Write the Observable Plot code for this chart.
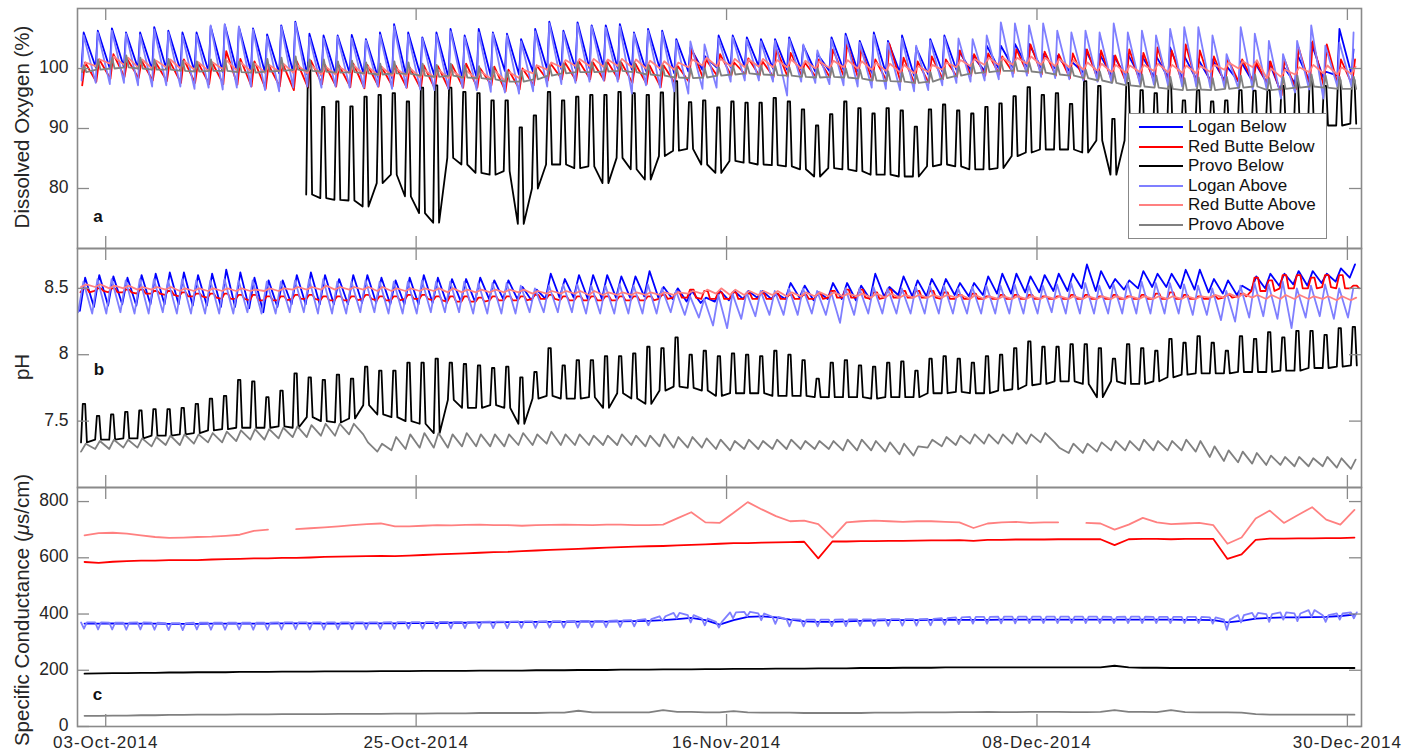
<!DOCTYPE html>
<html><head><meta charset="utf-8">
<script src="https://cdn.jsdelivr.net/npm/d3@7"></script>
<script src="https://cdn.jsdelivr.net/npm/@observablehq/plot@0.6"></script>
<style>
body{margin:0;background:#fff;font-family:"Liberation Sans",Arial,sans-serif;}
#wrap{position:relative;width:1417px;height:752px;overflow:hidden;background:#fff;}
.panel{position:absolute;left:0;}
.ytitle{position:absolute;white-space:nowrap;font-size:20.5px;line-height:1;color:#262626;transform:translate(-50%,-50%) rotate(-90deg);}
.letter{position:absolute;font-weight:bold;font-size:17px;line-height:1;color:#111;transform:translate(-50%,-50%);}
#legend{position:absolute;left:1128px;top:113px;width:197px;height:124px;border:1.5px solid #888;background:#fff;}
.lrow{position:absolute;left:0;height:20px;width:197px;}
.lline{position:absolute;left:10px;top:9px;width:44px;height:2px;}
.ltext{position:absolute;left:59px;top:0;font-size:17px;line-height:20px;color:#111;white-space:nowrap;}
</style></head>
<body><div id="wrap"></div>
<script>
// ---------- axis / legend text ----------
const seriesNames = ["Logan Below","Red Butte Below","Provo Below","Logan Above","Red Butte Above","Provo Above"];
const seriesColors = ["#0000ff","#ff0000","#000000","#7f7fff","#ff8080","#808080"];
const tickDateStrings = ["2014-10-03","2014-10-25","2014-11-16","2014-12-08","2014-12-30"];
const tickLabels = ["03-Oct-2014","25-Oct-2014","16-Nov-2014","08-Dec-2014","30-Dec-2014"];
const doTicks = [80, 90, 100];
const phTicks = [7.5, 8, 8.5];
const scTicks = [0, 200, 400, 600, 800];

// ---------- (a) Dissolved oxygen, daily high / low, day 0 = 01-Oct-2014 ----------
const doLoganBelowHi = [
106.0,106.3,106.7,106.0,106.0,106.9,106.3,106.0,106.0,107.0,
107.3,106.9,106.7,105.7,107.2,107.8,105.8,105.5,105.5,105.6,
104.9,106.0,107.4,106.0,105.2,106.0,106.6,105.5,106.6,106.0,
105.8,104.9,106.6,107.8,106.3,107.7,107.2,107.2,107.4,106.0,
106.6,106.3,104.9,103.5,102.1,105.5,105.5,105.2,104.9,104.9,
105.2,103.8,102.4,105.2,105.8,104.6,106.0,104.6,105.5,103.5,
104.9,105.5,103.0,102.1,103.8,103.8,104.1,104.1,102.4,102.1,
101.2,103.2,102.4,102.1,102.4,102.1,102.1,103.5,102.1,101.5,
101.5,100.4,101.2,101.0,101.2,100.4,102.4,104.3,99.5,106.6,103.2];
const doLoganBelowLo = [
100.3,100.2,100.0,100.2,100.0,99.8,99.9,99.7,99.6,99.5,
99.4,99.6,99.5,99.3,99.2,99.3,99.0,98.8,99.0,99.2,
99.0,98.6,98.4,98.8,99.0,98.8,98.5,98.2,98.5,98.7,
99.6,99.0,99.4,99.8,99.9,100.0,100.0,100.2,100.0,99.8,
99.6,99.8,99.2,99.5,99.8,100.2,100.2,100.3,100.3,100.0,
99.8,99.8,99.5,99.6,99.8,99.6,99.3,99.2,99.3,98.8,
99.0,99.5,99.8,99.8,99.6,100.0,100.2,100.3,100.2,100.0,
99.6,99.3,99.0,98.8,98.7,98.6,98.6,98.5,98.3,98.2,
98.0,98.0,97.8,97.8,97.6,96.0,97.5,98.0,98.5,98.8,99.0];
const doRedBelowHi = [
101.0,101.5,102.4,101.5,101.3,101.0,101.2,101.5,101.0,101.0,
102.9,101.6,101.2,100.6,100.8,101.2,101.3,100.6,100.5,100.8,
100.6,100.3,100.5,100.2,100.5,100.4,100.6,100.8,100.0,100.3,
99.8,100.0,100.5,100.8,101.0,101.2,101.0,101.2,101.0,100.8,
100.5,100.5,100.4,103.2,101.5,102.4,101.0,101.7,101.2,103.2,
102.6,101.0,101.5,103.2,104.1,103.2,101.5,104.1,101.8,101.2,
102.0,101.5,103.0,102.4,102.5,102.0,103.2,104.0,102.8,102.4,
102.5,103.2,103.0,102.2,103.2,102.6,103.5,103.0,104.0,103.0,
102.0,101.5,101.5,101.0,101.2,101.5,103.5,104.5,104.0,101.5,101.5];
const doRedBelowLo = [
97.2,97.8,98.3,98.6,98.4,98.0,97.9,97.6,97.6,97.4,
97.4,97.3,97.0,96.6,97.0,96.4,96.8,97.4,97.0,96.9,
96.7,97.0,97.0,96.8,96.6,96.6,96.5,96.8,96.8,97.2,
96.2,96.5,97.2,98.0,98.2,98.0,98.2,98.0,98.2,97.6,
97.4,96.9,97.6,97.8,98.4,98.8,98.8,99.0,98.8,98.6,
98.6,98.8,98.6,98.5,98.6,98.4,98.0,98.0,97.8,97.5,
97.6,98.2,98.6,98.8,98.8,99.0,99.2,99.2,99.0,98.8,
98.4,98.0,98.0,97.8,97.6,97.5,97.6,97.5,97.4,97.3,
97.2,97.4,97.6,97.8,97.4,95.5,96.5,97.2,97.0,97.2,97.3];
const doProvoBelowHi = [
null,null,null,null,null,null,null,null,null,null,
null,null,null,null,null,null,101.0,93.6,94.5,93.7,
95.3,95.6,95.9,94.5,96.8,97.2,96.8,96.1,95.9,94.7,
94.7,90.2,92.2,96.1,94.7,95.3,95.6,95.6,96.1,95.9,
95.6,96.0,97.9,94.4,94.7,93.5,94.5,94.3,94.3,95.1,
94.5,93.2,90.5,92.4,94.5,93.4,92.5,93.4,93.0,90.3,
93.2,94.0,93.0,92.5,93.6,94.2,95.4,96.9,95.6,95.9,
94.1,97.9,97.1,91.6,97.6,96.4,95.9,97.9,94.7,96.4,
94.5,94.7,96.4,96.3,96.4,97.1,98.1,98.4,97.1,98.1,98.1];
const doProvoBelowLo = [
null,null,null,null,null,null,null,null,null,null,
null,null,null,null,null,null,79.0,78.4,78.1,78.0,
77.0,80.9,82.3,78.7,75.9,74.3,85.1,84.0,82.6,82.3,
82.9,74.1,80.0,84.0,84.0,83.4,83.7,80.9,85.1,83.2,
81.5,85.4,86.3,86.6,84.0,82.6,84.6,84.3,84.0,83.9,
83.7,83.2,82.0,83.4,83.2,82.9,82.3,82.3,82.0,82.0,
83.7,84.0,83.7,83.2,83.2,83.4,85.4,86.0,86.5,86.5,
86.5,86.0,88.0,82.3,88.0,88.0,88.3,88.5,88.8,89.1,
89.1,89.1,89.4,90.0,90.0,90.5,90.2,90.5,90.5,90.5,90.8];
const doLoganAboveHi = [
105.5,106.0,106.3,105.8,105.6,106.5,106.0,105.5,105.6,107.2,
107.4,107.0,106.5,105.3,107.0,107.6,105.2,105.0,105.3,105.0,
104.7,105.6,107.0,105.6,105.0,105.6,106.2,105.2,106.0,105.8,
105.5,104.5,106.2,107.5,106.0,107.4,107.0,106.8,107.0,105.8,
106.3,106.0,104.6,104.5,104.0,105.0,105.2,104.8,104.5,104.6,
104.9,104.0,103.0,104.8,105.4,104.3,105.6,104.3,105.0,103.8,
104.6,105.2,105.0,104.9,105.5,107.7,107.5,107.2,107.5,106.3,
106.0,106.3,106.0,107.5,106.0,106.3,105.5,106.6,106.9,106.9,
105.5,102.4,106.9,105.8,104.6,102.4,104.6,107.2,103.8,104.3,106.0];
const doLoganAboveLo = [
98.0,97.6,97.4,97.6,97.2,97.0,97.2,97.0,96.6,96.8,
96.5,96.8,97.0,96.4,96.2,96.8,97.0,96.8,97.0,96.8,
96.8,97.0,96.6,96.8,96.5,96.4,96.6,96.8,96.4,96.1,
96.0,95.8,96.2,97.0,97.4,97.6,97.8,98.0,97.8,95.8,
97.2,96.8,96.2,95.8,96.6,96.8,97.8,98.0,98.0,97.8,
95.5,97.8,97.6,97.4,97.2,97.0,96.8,96.6,96.4,96.2,
96.4,97.2,97.6,97.8,98.0,98.2,98.6,98.8,98.6,98.4,
98.2,98.0,97.8,97.6,97.5,97.4,97.3,97.2,97.0,97.0,
96.8,96.8,96.6,96.5,96.4,95.0,96.0,96.5,95.0,97.0,97.0];
const doRedAboveHi = [
101.0,101.5,102.0,101.8,101.5,101.3,101.5,101.2,101.0,101.0,
101.3,101.0,100.8,100.6,100.8,100.6,100.5,100.3,100.2,100.5,
100.3,100.2,100.0,100.0,99.8,99.8,99.6,99.6,99.5,99.6,
99.4,99.8,100.5,101.0,101.4,101.6,101.6,101.5,101.6,101.5,
101.3,101.2,101.0,101.5,101.8,101.6,101.6,101.5,101.6,101.4,
101.5,101.3,101.2,101.3,101.4,101.2,101.0,100.8,100.6,100.4,
100.6,101.0,101.4,101.6,101.8,101.8,101.8,102.0,101.8,101.6,
101.4,101.0,100.8,100.6,100.5,100.6,100.8,100.6,100.5,100.4,
100.6,101.0,101.2,101.4,100.0,99.8,100.2,100.6,100.5,100.2,100.3];
const doRedAboveLo = [
99.8,100.4,100.8,100.6,100.2,100.0,100.2,100.0,99.8,99.6,
99.9,99.7,99.5,99.3,99.5,99.3,99.2,99.0,99.0,99.2,
99.0,98.9,98.8,98.8,98.5,98.5,98.4,98.4,98.2,98.3,
98.0,98.4,99.2,99.8,100.2,100.4,100.4,100.3,100.4,100.2,
100.0,100.0,99.8,100.2,100.5,100.4,100.4,100.2,100.3,100.2,
100.2,100.0,100.0,100.1,100.2,100.0,99.8,99.6,99.4,99.2,
99.4,99.8,100.2,100.4,100.6,100.6,100.6,100.8,100.6,100.4,
100.2,99.8,99.6,99.4,99.3,99.4,99.6,99.4,99.3,99.2,
99.4,99.8,100.0,100.2,98.4,98.6,99.0,99.4,99.2,99.0,99.1];
const doProvoAboveHi = [
100.5,101.5,101.8,102.2,101.8,101.5,101.6,101.3,101.2,101.5,
101.5,101.2,101.0,101.6,101.8,102.0,101.5,101.5,101.2,101.3,
101.0,100.8,101.2,101.0,100.8,100.6,100.8,100.5,100.4,100.2,
99.6,99.6,100.0,100.5,100.8,101.0,101.0,101.0,101.2,101.0,
100.6,100.5,100.2,100.0,100.0,100.2,100.5,100.6,100.5,100.4,
100.2,100.0,100.0,100.2,100.0,99.8,99.6,99.5,99.3,99.0,
99.4,100.0,100.4,100.8,101.0,101.2,101.2,101.0,100.8,100.5,
100.2,99.8,99.5,99.4,99.2,99.0,98.8,98.6,98.4,98.5,
98.4,98.6,98.8,99.0,98.4,98.6,98.8,99.0,98.8,98.6,98.6];
const doProvoAboveLo = [
99.4,99.8,100.0,100.2,100.0,99.8,99.8,99.6,99.5,99.6,
99.6,99.4,99.3,99.5,99.6,99.8,99.6,99.5,99.3,99.4,
99.2,99.0,99.2,99.1,98.8,98.6,98.8,98.5,98.4,98.2,
97.8,97.8,98.2,98.8,99.2,99.4,99.4,99.5,99.6,99.4,
99.0,98.8,98.5,98.4,98.5,98.8,99.0,99.2,99.0,98.9,
98.8,98.6,98.5,98.6,98.5,98.3,98.0,97.9,97.8,97.6,
97.8,98.4,98.8,99.2,99.4,99.6,99.6,99.5,99.3,99.0,
98.8,98.4,98.0,97.6,97.2,97.0,96.8,96.6,96.4,96.5,
96.4,96.6,96.8,97.0,96.4,96.6,96.8,97.0,96.8,96.6,96.6];

// ---------- (b) pH, daily high / low ----------
const phLoganBelowHi = [
8.58,8.60,8.59,8.58,8.60,8.61,8.62,8.62,8.60,8.61,
8.64,8.62,8.58,8.56,8.56,8.60,8.62,8.60,8.57,8.60,
8.60,8.58,8.56,8.58,8.60,8.58,8.57,8.57,8.58,8.56,
8.56,8.51,8.49,8.61,8.57,8.60,8.60,8.60,8.59,8.59,
8.63,8.51,8.50,8.48,8.43,8.48,8.48,8.48,8.48,8.46,
8.54,8.52,8.47,8.54,8.54,8.52,8.61,8.51,8.59,8.56,
8.57,8.57,8.54,8.54,8.59,8.61,8.61,8.59,8.60,8.61,
8.61,8.68,8.63,8.57,8.56,8.63,8.61,8.61,8.64,8.64,
8.57,8.56,8.52,8.59,8.61,8.61,8.63,8.63,8.61,8.65,8.68];
const phLoganBelowLo = [
8.33,8.36,8.37,8.38,8.37,8.38,8.38,8.38,8.37,8.37,
8.36,8.36,8.35,8.32,8.36,8.38,8.38,8.38,8.38,8.38,
8.39,8.39,8.38,8.38,8.38,8.39,8.39,8.40,8.40,8.42,
8.42,8.42,8.41,8.42,8.43,8.43,8.42,8.42,8.43,8.43,
8.44,8.43,8.42,8.40,8.39,8.40,8.41,8.42,8.43,8.42,
8.42,8.43,8.41,8.42,8.42,8.41,8.42,8.44,8.45,8.44,
8.44,8.45,8.45,8.44,8.45,8.46,8.46,8.47,8.47,8.48,
8.48,8.50,8.48,8.50,8.49,8.50,8.51,8.51,8.50,8.49,
8.47,8.46,8.45,8.48,8.50,8.52,8.53,8.52,8.54,8.55,8.58];
const phRedBelowHi = [
8.50,8.50,8.50,8.49,8.49,8.48,8.48,8.47,8.46,8.46,
8.46,8.45,8.45,8.44,8.44,8.45,8.45,8.44,8.44,8.44,
8.45,8.44,8.44,8.45,8.45,8.44,8.44,8.44,8.43,8.44,
8.44,8.44,8.45,8.45,8.44,8.44,8.44,8.44,8.44,8.44,
8.44,8.45,8.47,8.49,8.48,8.47,8.47,8.46,8.46,8.46,
8.45,8.45,8.46,8.48,8.49,8.49,8.47,8.49,8.48,8.48,
8.48,8.47,8.45,8.46,8.44,8.45,8.45,8.45,8.44,8.44,
8.45,8.45,8.44,8.45,8.44,8.45,8.46,8.47,8.45,8.44,
8.44,8.45,8.46,8.58,8.56,8.60,8.60,8.58,8.60,8.60,8.52];
const phRedBelowLo = [
8.47,8.48,8.47,8.47,8.46,8.46,8.45,8.44,8.44,8.43,
8.42,8.42,8.41,8.41,8.41,8.42,8.42,8.41,8.41,8.41,
8.42,8.41,8.41,8.42,8.42,8.41,8.40,8.40,8.40,8.41,
8.41,8.41,8.42,8.42,8.41,8.41,8.41,8.41,8.41,8.41,
8.41,8.42,8.43,8.43,8.42,8.42,8.42,8.42,8.42,8.42,
8.42,8.42,8.42,8.43,8.43,8.43,8.42,8.43,8.43,8.43,
8.43,8.42,8.42,8.42,8.42,8.42,8.42,8.42,8.42,8.42,
8.42,8.42,8.42,8.42,8.42,8.42,8.42,8.42,8.42,8.42,
8.42,8.43,8.44,8.48,8.48,8.50,8.50,8.50,8.51,8.50,8.50];
const phProvoBelowHi = [
7.63,7.54,7.55,7.57,7.58,7.59,7.59,7.60,7.63,7.67,
7.69,7.81,7.80,7.68,7.73,7.86,7.83,7.81,7.85,7.82,
7.91,7.88,7.88,7.94,7.94,7.97,7.94,7.93,7.92,7.90,
7.91,7.83,7.87,8.05,7.92,7.96,7.96,7.99,7.99,8.01,
8.06,8.05,8.13,8.00,8.03,7.99,8.01,8.00,7.99,8.03,
8.00,7.96,7.82,7.94,7.96,7.92,7.91,7.94,7.95,7.88,
7.97,7.99,7.97,7.94,7.99,8.00,8.05,8.10,8.06,8.06,
8.08,8.08,8.05,7.97,8.08,8.05,8.03,8.12,8.09,8.14,
8.09,8.03,8.14,8.12,8.17,8.13,8.18,8.18,8.15,8.20,8.21];
const phProvoBelowLo = [
7.34,7.36,7.36,7.37,7.37,7.39,7.39,7.40,7.41,7.43,
7.44,7.45,7.45,7.45,7.46,7.45,7.53,7.50,7.49,7.52,
7.62,7.55,7.53,7.50,7.48,7.41,7.66,7.60,7.60,7.62,
7.60,7.48,7.67,7.69,7.67,7.67,7.68,7.60,7.71,7.67,
7.63,7.73,7.76,7.75,7.73,7.69,7.71,7.71,7.71,7.69,
7.69,7.69,7.68,7.68,7.68,7.68,7.67,7.68,7.68,7.68,
7.71,7.71,7.72,7.71,7.71,7.73,7.74,7.77,7.78,7.80,
7.80,7.78,7.68,7.80,7.78,7.78,7.80,7.83,7.85,7.86,
7.86,7.86,7.87,7.87,7.87,7.88,7.88,7.90,7.90,7.91,7.92];
const phLoganAboveHi = [
8.55,8.57,8.57,8.56,8.57,8.57,8.56,8.57,8.56,8.56,
8.57,8.56,8.56,8.55,8.55,8.56,8.57,8.57,8.55,8.55,
8.56,8.55,8.55,8.55,8.56,8.55,8.55,8.55,8.54,8.54,
8.54,8.52,8.50,8.52,8.53,8.53,8.52,8.52,8.53,8.52,
8.53,8.50,8.48,8.44,8.42,8.45,8.46,8.47,8.48,8.48,
8.50,8.50,8.48,8.47,8.50,8.50,8.51,8.50,8.50,8.51,
8.52,8.52,8.50,8.51,8.52,8.52,8.53,8.52,8.52,8.53,
8.54,8.54,8.52,8.53,8.54,8.55,8.54,8.54,8.53,8.52,
8.50,8.48,8.52,8.54,8.53,8.55,8.50,8.52,8.53,8.50,8.50];
const phLoganAboveLo = [
8.32,8.31,8.31,8.32,8.31,8.31,8.32,8.31,8.31,8.31,
8.31,8.31,8.32,8.31,8.31,8.32,8.32,8.31,8.31,8.31,
8.32,8.32,8.31,8.31,8.31,8.32,8.32,8.32,8.31,8.31,
8.31,8.31,8.32,8.32,8.32,8.32,8.31,8.31,8.31,8.31,
8.31,8.31,8.32,8.30,8.28,8.22,8.20,8.27,8.29,8.30,
8.30,8.30,8.31,8.30,8.24,8.30,8.31,8.31,8.31,8.31,
8.31,8.31,8.31,8.31,8.31,8.31,8.31,8.31,8.31,8.32,
8.31,8.31,8.31,8.31,8.31,8.31,8.31,8.31,8.31,8.30,
8.30,8.26,8.25,8.28,8.29,8.27,8.20,8.28,8.29,8.27,8.28];
const phRedAboveHi = [
8.53,8.53,8.52,8.52,8.51,8.51,8.51,8.50,8.50,8.50,
8.50,8.50,8.49,8.50,8.50,8.51,8.51,8.52,8.51,8.51,
8.51,8.51,8.50,8.50,8.50,8.50,8.50,8.49,8.49,8.49,
8.49,8.49,8.48,8.48,8.48,8.48,8.48,8.47,8.47,8.47,
8.47,8.47,8.47,8.48,8.49,8.50,8.49,8.48,8.48,8.48,
8.47,8.47,8.47,8.47,8.46,8.46,8.46,8.46,8.45,8.45,
8.45,8.45,8.45,8.45,8.44,8.44,8.44,8.44,8.44,8.44,
8.44,8.44,8.44,8.44,8.44,8.44,8.44,8.44,8.44,8.44,
8.45,8.46,8.46,8.45,8.45,8.45,8.45,8.44,8.44,8.44,8.43];
const phRedAboveLo = [
8.51,8.51,8.50,8.50,8.49,8.49,8.49,8.48,8.48,8.48,
8.48,8.48,8.48,8.48,8.48,8.49,8.49,8.49,8.49,8.49,
8.49,8.48,8.48,8.48,8.48,8.48,8.47,8.47,8.47,8.47,
8.47,8.47,8.46,8.46,8.46,8.46,8.45,8.45,8.45,8.45,
8.45,8.45,8.45,8.46,8.46,8.46,8.45,8.45,8.45,8.45,
8.44,8.44,8.44,8.44,8.44,8.44,8.43,8.43,8.43,8.43,
8.43,8.43,8.43,8.42,8.42,8.42,8.42,8.42,8.42,8.42,
8.42,8.42,8.42,8.42,8.42,8.42,8.42,8.42,8.42,8.42,
8.43,8.43,8.43,8.43,8.42,8.42,8.42,8.42,8.42,8.41,8.41];
const phProvoAboveHi = [
7.33,7.35,7.36,7.36,7.37,7.38,7.39,7.40,7.40,7.41,
7.42,7.43,7.44,7.44,7.45,7.46,7.47,7.48,7.48,7.48,
7.34,7.33,7.38,7.40,7.41,7.41,7.40,7.41,7.40,7.40,
7.40,7.41,7.40,7.42,7.40,7.40,7.39,7.39,7.40,7.39,
7.39,7.40,7.38,7.38,7.37,7.36,7.35,7.36,7.35,7.36,
7.36,7.35,7.35,7.35,7.36,7.36,7.35,7.34,7.33,7.31,
7.36,7.38,7.39,7.40,7.40,7.40,7.41,7.40,7.41,7.30,
7.33,7.33,7.34,7.35,7.35,7.36,7.35,7.35,7.36,7.35,
7.31,7.28,7.27,7.26,7.24,7.23,7.23,7.22,7.23,7.22,7.21];
const phProvoAboveLo = [
7.27,7.29,7.29,7.30,7.30,7.31,7.32,7.32,7.33,7.34,
7.34,7.35,7.36,7.36,7.37,7.38,7.38,7.39,7.39,7.40,
7.40,7.27,7.28,7.29,7.30,7.30,7.30,7.31,7.31,7.31,
7.31,7.32,7.32,7.33,7.32,7.32,7.32,7.32,7.32,7.32,
7.31,7.31,7.30,7.30,7.30,7.29,7.28,7.29,7.29,7.29,
7.29,7.29,7.29,7.29,7.28,7.28,7.28,7.27,7.25,7.24,
7.30,7.31,7.32,7.33,7.33,7.33,7.33,7.33,7.34,7.34,
7.26,7.26,7.27,7.28,7.28,7.28,7.28,7.28,7.28,7.27,
7.23,7.20,7.19,7.18,7.17,7.17,7.16,7.16,7.16,7.15,7.14];

// ---------- (c) Specific conductance ----------
const scLoganBelow = [
366,366,367,366,366,366,365,365,365,366,
366,366,366,366,367,367,367,366,366,367,
367,367,367,368,368,368,369,369,370,370,
371,371,372,372,372,373,373,373,374,375,
376,378,382,386,378,362,378,390,392,388,
380,374,372,372,374,376,377,378,378,378,
379,379,379,379,379,380,380,380,380,380,
380,380,380,380,380,380,380,380,379,379,
378,370,376,384,386,388,388,389,390,393,398];
const scRedBelow = [
585,582,586,588,590,590,592,592,592,594,
595,596,598,598,600,600,601,603,604,605,
606,607,606,608,610,612,614,616,618,620,
621,624,626,628,630,632,634,636,638,640,
641,642,644,646,648,650,652,652,654,655,
656,657,598,658,658,659,659,660,660,661,
662,662,663,660,664,664,665,665,665,666,
666,666,666,645,666,667,667,666,667,667,
667,596,612,664,668,668,669,669,670,670,672];
const scProvoBelow = [
188,189,190,190,191,191,192,192,193,193,
193,194,194,194,195,195,195,196,196,196,
196,197,197,197,198,198,198,198,199,199,
199,199,200,200,200,201,201,201,202,202,
202,203,203,203,204,204,205,205,205,206,
206,206,207,207,207,208,208,208,209,209,
209,210,210,210,210,210,210,210,210,210,
210,210,210,216,210,209,209,208,208,208,
208,208,208,208,208,208,208,208,208,208,208];
const scLoganAboveHi = [
370,370,369,369,370,369,368,368,369,369,
369,369,369,369,370,370,370,370,370,370,
370,370,371,371,371,372,372,372,372,373,
373,374,374,375,375,376,376,376,377,378,
382,392,404,396,384,372,406,408,402,390,
382,380,380,380,381,381,381,382,382,382,
383,385,388,390,390,391,391,391,391,391,
391,391,391,390,391,391,390,390,390,390,
388,380,396,404,400,406,402,414,396,402,406];
const scLoganAboveLo = [
348,345,345,344,345,344,343,343,345,344,
344,345,344,344,345,346,345,345,346,346,
346,347,347,348,348,349,349,350,350,350,
350,351,351,352,352,352,353,353,354,356,
360,375,385,370,360,352,385,392,378,365,
356,356,356,357,357,358,358,358,359,359,
360,362,364,366,366,367,367,368,368,368,
368,368,368,368,368,368,368,368,368,368,
366,344,370,385,372,380,375,390,372,380,385];
const scRedAbove = [
680,688,689,686,680,674,671,672,674,675,
678,682,696,700,null,702,705,708,712,716,
720,722,712,712,714,716,715,717,718,716,
716,714,716,717,718,717,716,718,718,716,
716,718,740,762,726,724,760,798,772,748,
730,732,720,672,726,730,732,730,728,730,
730,728,726,706,722,726,728,724,726,726,
null,724,722,700,718,742,726,720,722,724,
716,650,672,740,768,724,752,780,736,718,770];
const scProvoAbove = [
38,38,39,39,40,40,41,41,42,42,
42,43,43,43,44,44,44,44,45,45,
45,45,46,46,46,47,47,47,48,48,
48,48,48,49,49,56,50,50,50,50,
50,58,52,52,50,50,55,50,49,49,
49,48,48,48,48,48,49,49,49,50,
50,50,51,51,52,51,51,52,52,52,
51,51,52,58,52,52,51,58,51,50,
50,50,49,44,42,42,42,42,42,42,42];

// ---------- build ----------
const DAY = 864e5, HOUR = 36e5, T0 = Date.UTC(2014, 9, 1);
const xDomain = [new Date(T0), new Date(Date.UTC(2014, 11, 31))];
const tickDates = tickDateStrings.map(s => new Date(s + "T00:00:00Z"));
const labelOf = new Map(tickDates.map((d, i) => [+d, tickLabels[i]]));
const GRID = "#8a8a8a";
const FONT = "'Liberation Sans', Arial, Helvetica, sans-serif";

function diel(hi, lo, shape) {
  const out = [];
  hi.forEach((_, d) => {
    for (const [h, k] of shape) {
      const v = (k === "hi" ? hi : lo)[d];
      out.push({t: new Date(T0 + d * DAY + h * HOUR), v: v == null ? NaN : v});
    }
  });
  return out;
}
function daily(vals) {
  return vals.map((v, d) => ({t: new Date(T0 + d * DAY + 12 * HOUR), v: v == null ? NaN : v}));
}

const doSeries = [
  diel(doLoganBelowHi, doLoganBelowLo, [[7,"lo"],[10.5,"hi"]]),
  diel(doRedBelowHi, doRedBelowLo, [[8,"lo"],[13,"hi"]]),
  diel(doProvoBelowHi, doProvoBelowLo, [[5,"lo"],[8,"hi"],[12,"hi"],[15,"lo"]]),
  diel(doLoganAboveHi, doLoganAboveLo, [[7,"lo"],[10.5,"hi"]]),
  diel(doRedAboveHi, doRedAboveLo, [[7,"lo"],[14,"hi"]]),
  diel(doProvoAboveHi, doProvoAboveLo, [[8,"lo"],[11,"hi"],[15,"lo"]])
];
const phSeries = [
  diel(phLoganBelowHi, phLoganBelowLo, [[4,"lo"],[13,"hi"]]),
  diel(phRedBelowHi, phRedBelowLo, [[5,"lo"],[10,"hi"],[16,"hi"],[20,"lo"]]),
  diel(phProvoBelowHi, phProvoBelowLo, [[6,"lo"],[9,"hi"],[13,"hi"],[16,"lo"]]),
  diel(phLoganAboveHi, phLoganAboveLo, [[1,"lo"],[10,"hi"]]),
  diel(phRedAboveHi, phRedAboveLo, [[6,"lo"],[15,"hi"]]),
  diel(phProvoAboveHi, phProvoAboveLo, [[6,"lo"],[14,"hi"]])
];
const scSeries = [
  daily(scLoganBelow),
  daily(scRedBelow),
  daily(scProvoBelow),
  diel(scLoganAboveHi, scLoganAboveLo, [[6,"hi"],[11,"lo"],[16,"hi"]]),
  daily(scRedAbove),
  daily(scProvoAbove)
];

const wrap = document.getElementById("wrap");

function panel(top, {series, yDomain, yTicks, height, mt, mb, xLabels}) {
  const W = 1417, ML = 77, MR = 56, FW = W - ML - MR, FH = height - mt - mb, TK = 12;
  const marks = [
    ...series.map((data, i) => Plot.line(data, {x: "t", y: "v", stroke: seriesColors[i], strokeWidth: 1.8, strokeLinejoin: "round"})),
    Plot.ruleX(tickDates, {stroke: GRID, strokeWidth: 1.3, insetTop: FH - TK}),
    Plot.ruleX(tickDates, {stroke: GRID, strokeWidth: 1.3, insetBottom: FH - TK}),
    Plot.ruleY(yTicks, {stroke: GRID, strokeWidth: 1.3, insetRight: FW - TK}),
    Plot.ruleY(yTicks, {stroke: GRID, strokeWidth: 1.3, insetLeft: FW - TK}),
    Plot.axisY(yTicks, {tickSize: 0, tickPadding: 9, tickFormat: d => String(d), label: null, fontSize: 17.5, dy: -1}),
    Plot.frame({stroke: GRID, strokeWidth: 1.6})
  ];
  if (xLabels) marks.push(Plot.axisX(tickDates, {tickSize: 0, tickPadding: 9, tickFormat: d => labelOf.get(+d), label: null, fontSize: 17}));
  const svg = Plot.plot({
    width: W, height, marginLeft: ML, marginRight: MR, marginTop: mt, marginBottom: mb,
    x: xLabels ? {type: "utc", domain: xDomain} : {type: "utc", domain: xDomain, axis: null},
    y: {domain: yDomain},
    style: {background: "transparent", overflow: "visible", fontFamily: FONT, color: "#262626"},
    marks
  });
  svg.classList.add("panel");
  svg.style.top = top + "px";
  svg.style.position = "absolute";
  // slightly wider lettering, like the reference's stretched labels
  svg.querySelectorAll('[aria-label="x-axis tick label"] text').forEach(t => t.style.letterSpacing = "1px");
  wrap.appendChild(svg);
}

panel(0,   {series: doSeries, yDomain: [70, 110], yTicks: doTicks, height: 250, mt: 8, mb: 2, xLabels: false});
panel(240, {series: phSeries, yDomain: [7.0, 8.8], yTicks: phTicks, height: 250, mt: 8, mb: 3, xLabels: false});
panel(480, {series: scSeries, yDomain: [0, 850], yTicks: scTicks, height: 272, mt: 7, mb: 26, xLabels: true});

// axis titles and panel letters
function addDiv(cls, html, left, top) {
  const d = document.createElement("div");
  d.className = cls; d.innerHTML = html;
  d.style.left = left + "px"; d.style.top = top + "px";
  wrap.appendChild(d);
  return d;
}
addDiv("ytitle", "Dissolved Oxygen (%)", 22, 127);
addDiv("ytitle", "pH", 22, 367);
addDiv("ytitle", "Specific Conductance (<i>μ</i>s/cm)", 22, 610);
addDiv("letter", "a", 98, 215.5);
addDiv("letter", "b", 99, 369);
addDiv("letter", "c", 97.5, 693.5);

// legend
const leg = document.createElement("div");
leg.id = "legend";
seriesNames.forEach((name, i) => {
  const row = document.createElement("div");
  row.className = "lrow";
  row.style.top = (3 + i * 19.6) + "px";
  const ln = document.createElement("div");
  ln.className = "lline"; ln.style.background = seriesColors[i];
  const tx = document.createElement("div");
  tx.className = "ltext"; tx.textContent = name;
  row.appendChild(ln); row.appendChild(tx);
  leg.appendChild(row);
});
wrap.appendChild(leg);
</script>
</body></html>
